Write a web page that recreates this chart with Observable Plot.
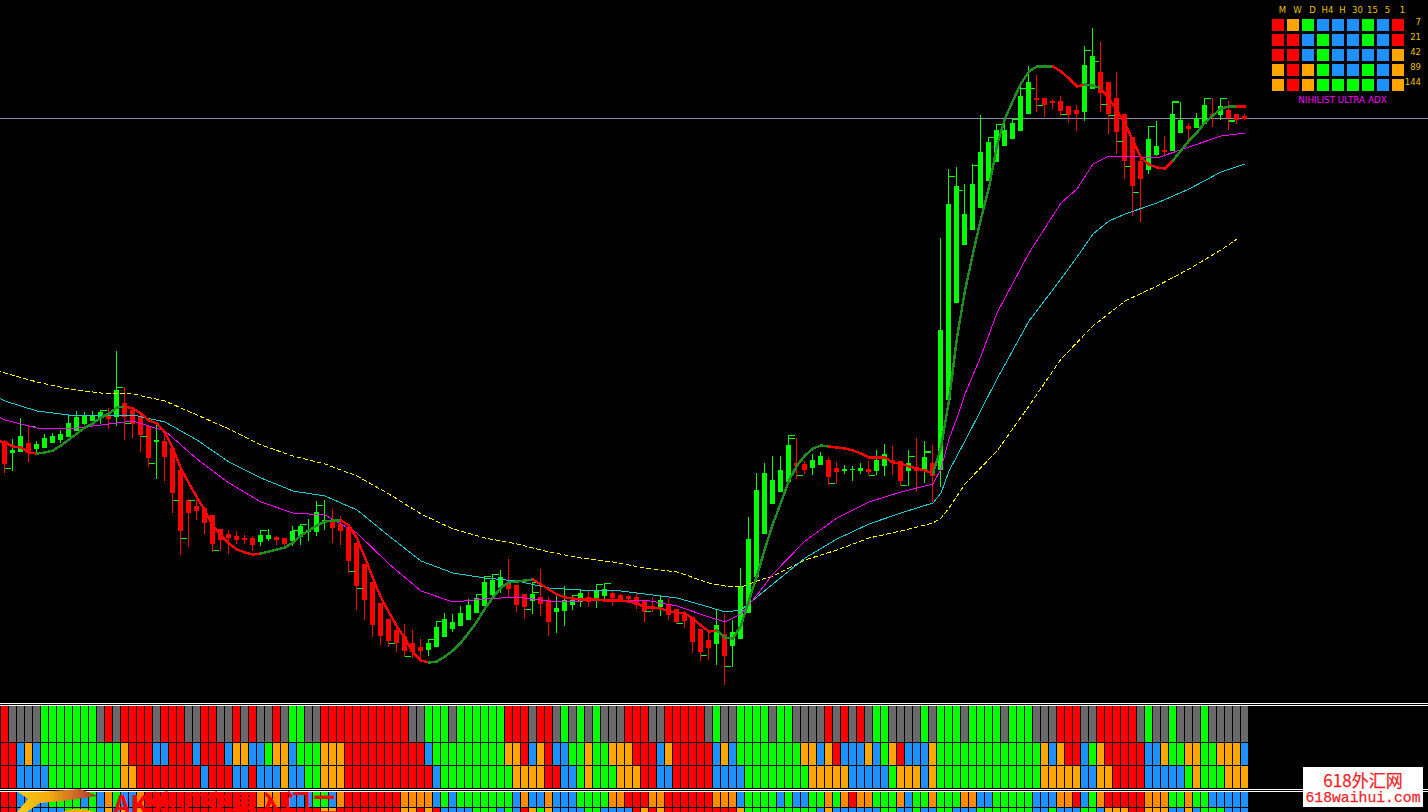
<!DOCTYPE html>
<html>
<head>
<meta charset="utf-8">
<script src="https://cdn.jsdelivr.net/npm/d3@7"></script>
<script src="https://cdn.jsdelivr.net/npm/@observablehq/plot@0.6"></script>
<style>
html,body{margin:0;padding:0;background:#000;width:1428px;height:812px;overflow:hidden}
#stage{position:relative;width:1428px;height:812px;overflow:hidden;background:#000}
#chart,#panel{position:absolute;top:0}
#chart{left:0}
#panel{left:1260px}
svg{display:block;background:transparent!important}
.swoosh{position:absolute;left:0;top:780px;width:110px;height:32px}
#s1{background:linear-gradient(90deg,#ffcb10 15%,#f2ab12 45%,#c9652a 70%,#ad2d2b 90%);clip-path:polygon(18px 12px,40px 12px,80px 9px,98px 16px,63px 21px,40px 23px,27px 32px,17px 32px,28px 19px)}
#s2{background:#f0b010;clip-path:polygon(62px 32px,72px 29px,86px 29px,94px 32px)}
#brand{position:absolute;left:113px;top:788px;font:bold 27px "Noto Sans CJK SC";color:#f00;white-space:nowrap;line-height:32px}
#mark{position:absolute;left:1303px;top:767px;width:120px;height:40px;background:#fff;color:#f01f2a}
#mark div{position:absolute;white-space:nowrap;left:0;width:120px;text-align:center;-webkit-text-stroke:.25px #f01f2a}
#m1{top:1px;font:17px/24px "Noto Sans CJK SC"}
#m2{top:21px;font:14.75px/20px "Liberation Mono"}
</style>
</head>
<body>
<div id="stage">
<div id="chart"></div>
<div class="swoosh" id="s1"></div>
<div class="swoosh" id="s2"></div>
<div id="brand">AK外汇交易入门二</div>
<div id="panel"></div>
<div id="mark"><div id="m1">618外汇网</div><div id="m2">618waihui.com</div></div>
</div>
<script>
const candleOpen = [371,359,360,369,363,364,369,372,375,381,388,391,394,396,395,409,402,396,386,370,371,364,342,312,306,304,297,283,278,276,274,274,270,273,275,274,271,275,280,280,289,292,288,285,269,248,230,209,193,182,176,169,165,162,165,175,183,186,192,199,206,217,224,230,227,218,211,215,212,200,201,207,210,215,214,216,219,217,216,215,211,206,205,208,203,197,195,183,172,168,178,166,173,199,235,278,308,320,330,349,348,344,347,352,344,341,342,341,343,341,346,352,351,341,345,342,349,342,412,509,567,582,604,631,650,666,673,681,698,714,714,711,711,706,702,700,723,740,730,714,698,675,651,642,657,662,661,679,686,684,688,698,697,702,698,696];
const candleClose = [348,362,376,359,368,374,376,378,389,395,396,397,400,393,422,395,388,377,354,372,355,319,281,299,301,289,268,272,274,272,272,267,277,277,272,268,281,286,282,300,292,284,281,251,226,212,187,176,171,169,161,160,161,169,185,193,190,199,207,214,230,232,235,223,207,205,218,208,190,204,212,212,219,210,221,223,214,213,213,207,200,204,212,197,190,191,170,160,164,187,156,180,226,273,322,339,332,342,367,346,342,352,356,335,340,343,343,344,340,352,358,349,331,349,341,355,336,482,608,626,598,628,660,670,682,682,689,716,730,712,707,709,701,697,698,747,756,719,698,680,651,626,633,673,666,660,698,692,683,694,707,696,706,694,692,693];
const candleHigh = [372,373,394,386,371,378,379,382,397,401,400,401,402,404,461,425,402,397,386,388,382,364,342,313,312,304,297,283,282,281,277,276,282,283,276,274,286,288,293,311,312,303,296,285,269,248,230,209,193,184,188,182,173,173,191,199,198,206,213,218,236,238,242,253,227,218,230,243,215,217,226,217,222,222,228,229,222,218,217,219,211,215,216,214,203,201,195,183,182,202,198,192,244,295,339,349,356,356,377,374,351,358,360,355,350,347,346,349,351,362,368,366,351,362,374,371,367,574,643,645,628,648,697,675,688,689,693,729,746,737,714,713,716,706,707,766,784,770,730,740,698,675,657,686,691,676,711,710,689,699,714,714,714,711,698,698];
const candleLow = [339,341,360,350,357,364,369,369,375,381,387,391,388,383,386,372,374,360,345,333,331,299,257,265,292,278,260,261,258,268,268,261,266,271,267,264,266,267,271,276,282,269,267,239,202,192,175,167,165,160,155,154,152,156,165,175,180,186,192,199,206,214,219,215,200,193,198,196,176,179,186,202,205,205,204,210,206,211,209,203,190,200,196,192,188,184,159,151,152,147,127,145,173,199,235,278,308,320,330,333,338,337,347,327,328,338,331,338,337,337,336,337,326,326,320,329,310,325,412,509,567,582,604,631,650,666,673,681,698,700,695,703,696,689,681,691,723,700,678,658,633,596,590,638,656,656,661,679,668,684,688,685,692,682,688,692];

const fastStartBar = -1;
const fastLevels = [372,370,366,365,360,359,360,362,367,373,379,385,389,395,399,405,406,404,399,392,389,380,364,344,329,315,302,287,277,269,263,260,258,259,261,263,265,270,277,282,287,291,292,292,287,274,255,234,215,200,186,174,160,152,150,151,156,162,170,180,191,204,215,225,230,231,232,233,228,223,218,215,214,213,213,213,212,212,212,211,209,205,205,204,201,200,199,194,187,181,182,175,174,187,212,237,264,289,310,332,347,357,364,367,366,365,364,362,359,355,355,355,350,349,346,344,342,339,365,412,475,522,559,594,625,667,694,712,729,741,746,746,746,741,734,726,728,727,724,714,702,689,672,655,648,645,644,652,662,672,680,690,697,704,706,706,706];
const fastTurns = [-1,4,15,32,42,53,66,89,103,116,131,135,137,146,154];

const magentaBars = [-1,0,4,8,12,16,20,24,28,32,36,40,44,48,52,56,60,64,68,72,76,80,84,88,90,92,94,96,100,104,108,112,116,117,118,119,120,122,124,128,132,134,136,138,140,144,148,152,155];
const magentaLevels = [397,393,385,384,388,392,382,354,330,311,300,298,280,249,222,211,214,216,212,212,213,213,207,196,191,199,218,239,272,295,311,321,329,344,374,395,419,457,500,560,610,624,649,657,657,655,666,677,680];
const cyanBars = [-1,0,4,8,12,16,20,24,28,32,36,40,44,48,52,56,60,64,68,72,76,80,84,88,90,92,96,100,104,108,112,116,117,118,119,120,124,128,132,134,136,138,140,144,148,152,155];
const cyanLevels = [416,412,402,398,398,398,391,373,351,335,322,317,303,277,252,240,235,232,225,223,223,219,215,206,201,203,229,255,274,289,300,310,320,342,357,372,434,492,534,556,579,592,599,610,624,641,649];
const yellowBars = [-1,0,4,8,12,16,20,24,28,32,36,40,44,48,52,56,60,64,68,72,76,80,84,88,90,92,94,96,100,104,108,112,116,117,118,119,120,124,128,132,136,140,144,148,152,154];
const yellowLevels = [443,440,431,424,420,419,412,398,384,368,357,349,337,319,299,284,275,269,261,255,251,245,241,230,227,226,232,237,253,263,275,282,290,295,305,317,329,362,407,454,487,512,527,544,563,574];

const dashBars = [0,1,3,12,13,14,15,15,17,18,19,21,22,23,23,26,27,32,36,37,39,40,43,44,48,50,51,53,54,59,60,61,65,66,67,71,72,74,75,81,84,85,88,90,91,98,99,99,103,104,109,112,113,113,115,116,118,120,121,123,124,126,127,128,129,132,135,137,137,138,139,140,141,142,143,146,147,150,152,153,154];
const dashLevels = [344,344,386,402,402,425,425,389,376,349,349,312,274,274,312,262,262,282,282,288,307,307,241,224,169,156,156,173,191,218,236,238,203,230,220,217,222,228,229,201,189,189,157,146,146,377,374,337,329,329,337,327,356,327,361,360,636,622,647,675,688,693,724,724,707,698,762,751,708,697,671,646,620,620,686,711,710,714,714,692,691];
const dashSides = [1,-1,1,1,-1,1,-1,1,1,1,-1,1,1,-1,1,1,-1,1,1,1,1,-1,1,1,1,1,-1,1,1,1,1,1,1,1,-1,1,1,1,1,-1,1,-1,-1,1,-1,1,-1,1,1,-1,-1,1,1,-1,1,-1,1,-1,1,1,1,1,1,1,1,1,1,-1,1,1,1,1,1,-1,1,1,-1,1,1,1,-1];

const bidLevel = 694;
const separatorLevels = [109,107,23,21];

const stripA = "RKKKKGGGGG"+"GGKRKRRRRK"+"RRRKKRRKKR"+"KRKKRKGGKK"+"RRRRRRRRRR"+"RKKGGGKGGG"+"GGGRRRKRRK"+"GKGKGKKKRR"+"RKKRRRRRKG"+"KKGGGGKGGK"+"KKKRKRKRKG"+"GKKKKGKGGG"+"KGGGGKGGGK"+"KKRRRKKRRR"+"RRKGKKGKKK"+"GKKKKK";
const stripB = "RRBOBGGGGG"+"GGGGGORRRB"+"BRRRBRRRBO"+"OBBGOOBGGG"+"OOORRRRRRR"+"RRRBGGGGGG"+"GGGOORBORB"+"BGGOGGOOOR"+"RRBORRRRRB"+"OBGGGGGGGG"+"OOBORBBBOB"+"GORBBBOGGG"+"GGGGGGGGGG"+"OBORRBGORR"+"RRRBBOGGOO"+"GGOOOB";
const stripC = "RRBBBBGGGG"+"GGGGGOORRR"+"RRRRRBRRRB"+"BRBBBOBBGG"+"OOORRRRRRR"+"RRRRBGGGGG"+"GGGGOOOORR"+"BBGOGGGOOO"+"RRBBRRRRRB"+"BBBGGGGGGG"+"GOOOOOBBBB"+"BGOOOBOGGG"+"GGGGGGGGGG"+"OOOOOBBOOR"+"RRRBBBBBGO"+"GGGOOO";
const stripD = "RRBBBBGGGG"+"BGBOGBBORR"+"RRRRRRRRRR"+"RROOORBBBG"+"GBORRRRRRR"+"OOOOBGBGGG"+"GGGGBOBBOB"+"BBGGGGOORR"+"ROORRRRRRO"+"OOBGGGGBGB"+"BGGOGOROOG"+"GGOBGGOGGG"+"OOBBGGGGGB"+"BBOORBGORR"+"RRROOOGGOG"+"GBBBBB";
const stripE = "RRBBBBBBGG"+"GGBOBOBORR"+"RRRRRRRRRR"+"RRRRRRRRRR"+"OORRRRRRRR"+"OORORBBBBG"+"GGBGBROGOB"+"BBBGGBBBBR"+"ORORRRRRRR"+"RROGGGGGGG"+"GGBOBBBBBB"+"GGBBGBBGGB"+"BBGGGGGGGB"+"BGBBBGGBOO"+"ORROOOBBOB"+"GGGBBB";

const timeframes = ["M","W","D","H4","H","30","15","5","1"];
const periods = ["7","21","42","89","144"];
const panelStates = ["ROGBBBGBR","RRBGBBGBR","RRBGBBBBO","OROGBBGBO","OROGGGGBO"];
const panelTitle = "NIHILIST ULTRA ADX";

const UP = "#00ff00", DOWN = "#ff0000", FAST_UP = "#228b22";
const stateColor = {R:"#ff0000",G:"#00ff00",B:"#1e90ff",O:"#ffa500",K:"#696969"};
const crisp = {shapeRendering:"crispEdges"};

const candles = d3.range(candleOpen.length).map(i => ({
  i, open:candleOpen[i], close:candleClose[i], high:candleHigh[i], low:candleLow[i], up:candleClose[i] >= candleOpen[i]
}));
const fast = fastLevels.map((v,k) => {
  const i = k + fastStartBar;
  return {i, v, color: d3.bisectRight(fastTurns,i) % 2 === 1 ? DOWN : FAST_UP};
});
const dashes = dashBars.map((b,k) => ({b, v:dashLevels[k], s:dashSides[k]}));

const strips = [
  {codes:stripA, top:106, bottom:70},
  {codes:stripB, top:69, bottom:47},
  {codes:stripC, top:46, bottom:24},
  {codes:stripD, top:20, bottom:5, orange:"#ff8c00"},
  {codes:stripE, top:4, bottom:0}
];
const cells = strips.flatMap(s => Array.from(s.codes, (c,k) => ({
  k, top:s.top, bottom:s.bottom, color: c === "O" && s.orange ? s.orange : stateColor[c]
})));

const series = (bars,levels,stroke,extra={}) => Plot.line(levels,{x:bars,y:levels,stroke,strokeWidth:1,dx:.5,dy:.5,...crisp,...extra});

const chart = Plot.plot({
  width:1428, height:812, margin:0,
  x:{domain:[-0.5,178], range:[0,1428], axis:null},
  y:{domain:[0,812], range:[812,0], axis:null},
  color:{type:"identity"},
  style:{background:"transparent"},
  marks:[
    Plot.ruleY([bidLevel],{stroke:"#8a93a3",strokeWidth:1,...crisp}),
    Plot.ruleX(candles,{x:"i",y1:"low",y2:"high",stroke:d=>d.up?UP:DOWN,strokeWidth:1,...crisp}),
    Plot.ruleX(candles,{x:"i",y1:"open",y2:"close",stroke:d=>d.up?UP:DOWN,strokeWidth:5,...crisp}),
    Plot.ruleY(dashes,{x1:d=>d.b+d.s*0.125,x2:d=>d.b+d.s*0.875,y:"v",stroke:UP,strokeWidth:1,...crisp}),
    series(yellowBars,yellowLevels,"#ffff00",{strokeDasharray:"4,3"}),
    series(cyanBars,cyanLevels,"#1fc9cc"),
    series(magentaBars,magentaLevels,"#ff00ff"),
    Plot.line(fast,{x:"i",y:"v",z:null,stroke:"color",strokeWidth:2.4,dx:.5,...crisp}),
    Plot.rect(cells,{x1:d=>d.k-0.375,x2:d=>d.k+0.5,y1:"top",y2:"bottom",fill:"color",...crisp}),
    Plot.ruleY(separatorLevels,{stroke:"#ffffff",strokeWidth:1,...crisp})
  ]
});
document.getElementById("chart").append(chart);

const panelCells = periods.flatMap((p,r) => timeframes.map((t,c) => ({t,p,color:stateColor[panelStates[r][c]]})));
const labelColor = "#e8c208";
const panel = Plot.plot({
  width:168, height:110,
  marginLeft:10.5, marginRight:22.5, marginTop:17.5, marginBottom:17.5,
  x:{domain:timeframes, paddingInner:.2, paddingOuter:.1, round:false, axis:null},
  y:{domain:periods, paddingInner:.2, paddingOuter:.1, round:false, axis:null},
  color:{type:"identity"},
  style:{background:"transparent",overflow:"visible",fontFamily:"DejaVu Sans"},
  marks:[
    Plot.cell(panelCells,{x:"t",y:"p",fill:"color",inset:0,...crisp}),
    Plot.axisX({anchor:"top",tickSize:0,tickPadding:5,fontSize:8.5,fill:labelColor,label:null,dx:4}),
    Plot.axisY({anchor:"right",tickSize:0,tickPadding:0,fontSize:8.5,fill:labelColor,label:null,textAnchor:"end",dx:15,dy:-3}),
    Plot.text([panelTitle],{frameAnchor:"bottom",dx:4,dy:7,lineAnchor:"middle",fill:"#ff00ff",fontSize:8.8,fontFamily:"DejaVu Sans"})
  ]
});
document.getElementById("panel").append(panel);
</script>
</body>
</html>
